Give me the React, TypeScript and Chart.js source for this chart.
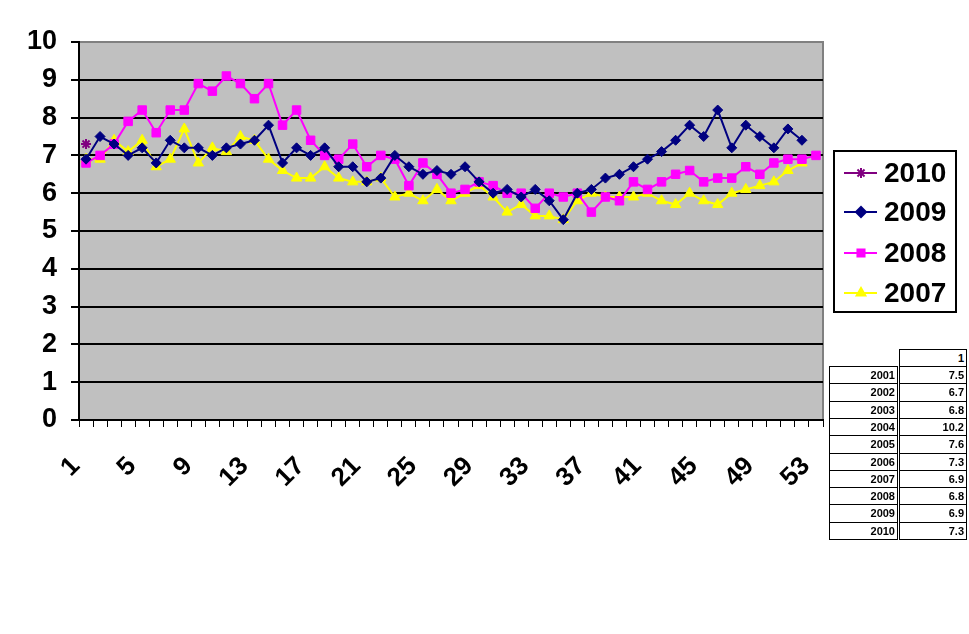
import { useEffect, useRef } from "react"
import { Chart, registerables } from "chart.js"
import { drawPoint } from "chart.js/helpers"

Chart.register(...registerables)

const weeks = [
  "1", "2", "3", "4", "5", "6", "7", "8", "9", "10", "11", "12", "13", "14", "15", "16", "17", "18",
  "19", "20", "21", "22", "23", "24", "25", "26", "27", "28", "29", "30", "31", "32", "33", "34", "35",
  "36", "37", "38", "39", "40", "41", "42", "43", "44", "45", "46", "47", "48", "49", "50", "51", "52", "53",
]

const y2010 = [7.3]

const y2009 = [
  6.9, 7.5, 7.3, 7.0, 7.2, 6.8, 7.4, 7.2, 7.2, 7.0, 7.2, 7.3, 7.4, 7.8, 6.8, 7.2, 7.0, 7.2,
  6.7, 6.7, 6.3, 6.4, 7.0, 6.7, 6.5, 6.6, 6.5, 6.7, 6.3, 6.0, 6.1, 5.9, 6.1, 5.8, 5.3,
  6.0, 6.1, 6.4, 6.5, 6.7, 6.9, 7.1, 7.4, 7.8, 7.5, 8.2, 7.2, 7.8, 7.5, 7.2, 7.7, 7.4,
]

const y2008 = [
  6.8, 7.0, 7.3, 7.9, 8.2, 7.6, 8.2, 8.2, 8.9, 8.7, 9.1, 8.9, 8.5, 8.9, 7.8, 8.2, 7.4, 7.0,
  6.9, 7.3, 6.7, 7.0, 6.9, 6.2, 6.8, 6.5, 6.0, 6.1, 6.3, 6.2, 6.0, 6.0, 5.6, 6.0, 5.9,
  6.0, 5.5, 5.9, 5.8, 6.3, 6.1, 6.3, 6.5, 6.6, 6.3, 6.4, 6.4, 6.7, 6.5, 6.8, 6.9, 6.9, 7.0,
]

const y2007 = [
  6.9, 6.9, 7.4, 7.1, 7.4, 6.7, 6.9, 7.7, 6.8, 7.2, 7.1, 7.5, 7.4, 6.9, 6.6, 6.4, 6.4, 6.7,
  6.4, 6.3, 6.3, 6.4, 5.9, 6.0, 5.8, 6.1, 5.8, 6.0, 6.2, 5.9, 5.5, 5.7, 5.4, 5.4, 5.3,
  5.8, 6.0, 5.9, 5.9, 5.9, 6.0, 5.8, 5.7, 6.0, 5.8, 5.7, 6.0, 6.1, 6.2, 6.3, 6.6, 6.8,
]

// side table (week 1 by year)
const tableHeader = "1"
const tableYears = ["2001", "2002", "2003", "2004", "2005", "2006", "2007", "2008", "2009", "2010"]
const tableValues = ["7.5", "6.7", "6.8", "10.2", "7.6", "7.3", "6.9", "6.8", "6.9", "7.3"]

const FONT = "'Liberation Sans', Arial, sans-serif"

const series = [
  { label: "2010", data: y2010, color: "#800080", style: "star", radius: 5 },
  { label: "2009", data: y2009, color: "#000080", style: "rectRot", radius: 5 },
  { label: "2008", data: y2008, color: "#FF00FF", style: "rect", radius: 6 },
  { label: "2007", data: y2007, color: "#FFFF00", style: "triangle", radius: 6 },
]

const plotBackground = {
  id: "plotBackground",
  beforeDraw(chart) {
    const { ctx, chartArea } = chart
    ctx.save()
    ctx.fillStyle = "#C0C0C0"
    ctx.fillRect(chartArea.left, chartArea.top, chartArea.right - chartArea.left, chartArea.bottom - chartArea.top)
    ctx.strokeStyle = "#808080"
    ctx.lineWidth = 2
    ctx.beginPath()
    ctx.moveTo(chartArea.left, chartArea.top)
    ctx.lineTo(chartArea.right, chartArea.top)
    ctx.lineTo(chartArea.right, chartArea.bottom)
    ctx.stroke()
    ctx.restore()
  },
}

const boxLegend = {
  id: "boxLegend",
  afterDraw(chart) {
    const { ctx } = chart
    ctx.save()
    ctx.strokeStyle = "#000"
    ctx.lineWidth = 2
    ctx.strokeRect(834, 151, 122, 161)
    const rows = [173, 212, 253, 293]
    series.forEach((s, i) => {
      const y = rows[i]
      ctx.strokeStyle = s.color
      ctx.fillStyle = s.color
      ctx.lineWidth = 2
      ctx.beginPath()
      ctx.moveTo(844, y)
      ctx.lineTo(877, y)
      ctx.stroke()
      drawPoint(ctx, { pointStyle: s.style, radius: 5, rotation: 0, borderWidth: 1.5 }, 861, y)
      ctx.fillStyle = "#000"
      ctx.font = `bold 28px ${FONT}`
      ctx.textBaseline = "middle"
      ctx.textAlign = "left"
      ctx.fillText(s.label, 884, y + 1)
    })
    ctx.restore()
  },
}

function WeeklyChart() {
  const chartRef = useRef(null)
  const chartInstance = useRef(null)

  useEffect(() => {
    if (!chartRef.current) return
    if (chartInstance.current) chartInstance.current.destroy()

    const ctx = chartRef.current.getContext("2d")
    chartInstance.current = new Chart(ctx, {
      type: "line",
      data: {
        labels: weeks,
        datasets: series.map((s) => ({
          label: s.label,
          data: s.data,
          borderColor: s.color,
          backgroundColor: s.color,
          borderWidth: 2,
          tension: 0,
          fill: false,
          pointStyle: s.style,
          pointRadius: s.radius,
          pointBorderColor: s.color,
          pointBackgroundColor: s.color,
          pointBorderWidth: s.style === "star" ? 2 : 1,
        })),
      },
      options: {
        responsive: false,
        animation: false,
        layout: { padding: { top: 42, right: 146, left: 0, bottom: 0 } },
        plugins: {
          legend: { display: false },
          tooltip: { enabled: false },
        },
        scales: {
          x: {
            offset: true,
            afterFit: (scale) => {
              scale.height = 214
            },
            border: { color: "#000", width: 2 },
            grid: {
              offset: true,
              drawOnChartArea: false,
              drawTicks: true,
              tickLength: 7,
              color: "#000",
              lineWidth: 1,
            },
            ticks: {
              autoSkip: false,
              minRotation: 45,
              maxRotation: 45,
              padding: 24,
              labelOffset: -10,
              color: "#000",
              font: { family: FONT, size: 26, weight: "bold" },
              callback: (value, index) => (index % 4 === 0 ? weeks[index] : ""),
            },
          },
          y: {
            min: 0,
            max: 10,
            afterFit: (scale) => {
              scale.width = 79
            },
            border: { color: "#000", width: 2 },
            grid: {
              color: (c) => (c.tick && c.tick.value === 10 ? "#808080" : "#000"),
              lineWidth: 2,
              tickLength: 8,
              tickColor: "#000",
            },
            ticks: {
              stepSize: 1,
              padding: 14,
              color: "#000",
              font: { family: FONT, size: 27, weight: "bold" },
            },
          },
        },
      },
      plugins: [plotBackground, boxLegend],
    })

    return () => {
      if (chartInstance.current) {
        chartInstance.current.destroy()
        chartInstance.current = null
      }
    }
  }, [])

  return <canvas ref={chartRef} width={969} height={634} />
}

const cell = {
  position: "absolute",
  border: "1px solid #000",
  boxSizing: "border-box",
  fontFamily: FONT,
  fontWeight: "bold",
  fontSize: 11,
  textAlign: "right",
  paddingRight: 2,
  lineHeight: "16px",
  background: "#fff",
} as const

const rowTop = (i: number) => 366 + Math.round(i * 17.3)

export default function App() {
  return (
    <div style={{ position: "fixed", left: 0, top: 0, width: 969, height: 634, background: "#fff" }}>
      <WeeklyChart />
      <div style={{ ...cell, left: 899, top: 349, width: 68, height: 18 }}>{tableHeader}</div>
      {tableYears.map((yr, i) => {
        const h = rowTop(i + 1) - rowTop(i) + 1
        return (
          <div key={yr}>
            <div style={{ ...cell, left: 829, top: rowTop(i), width: 69, height: h }}>{yr}</div>
            <div style={{ ...cell, left: 899, top: rowTop(i), width: 68, height: h }}>{tableValues[i]}</div>
          </div>
        )
      })}
    </div>
  )
}
